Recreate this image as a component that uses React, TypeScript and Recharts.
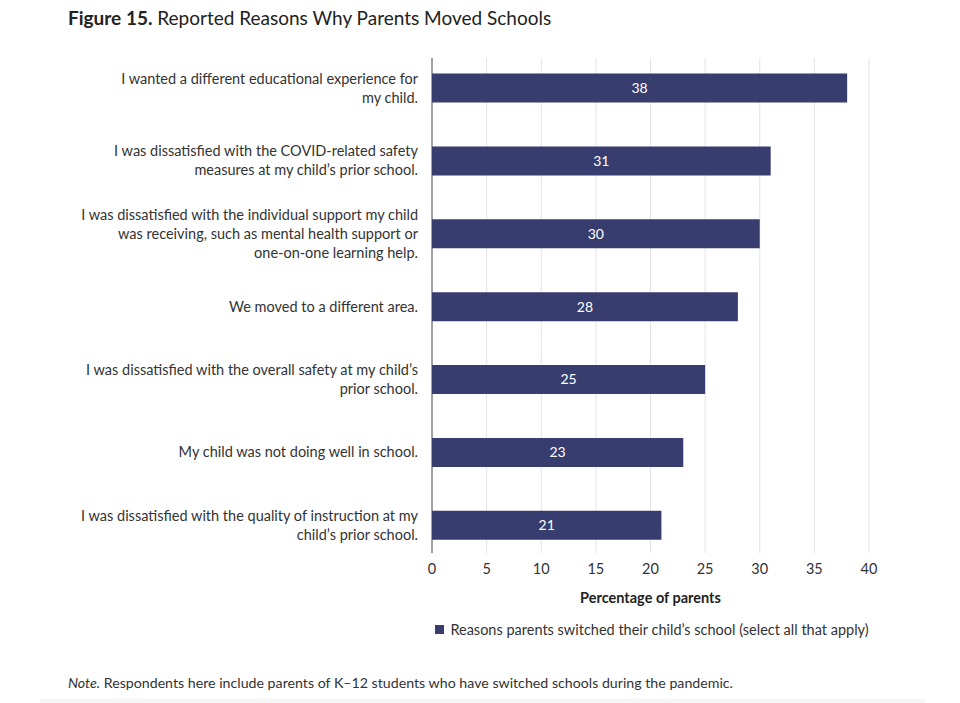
import React from 'react';
import { BarChart, Bar, XAxis, YAxis, CartesianGrid, LabelList } from 'recharts';

// Reasons (line breaks follow the original wrapping)
const reasons = [
  'I wanted a different educational experience for\nmy child.',
  'I was dissatisfied with the COVID-related safety\nmeasures at my child\u2019s prior school.',
  'I was dissatisfied with the individual support my child\nwas receiving, such as mental health support or\none-on-one learning help.',
  'We moved to a different area.',
  'I was dissatisfied with the overall safety at my child\u2019s\nprior school.',
  'My child was not doing well in school.',
  'I was dissatisfied with the quality of instruction at my\nchild\u2019s prior school.',
];
const percentages = [38, 31, 30, 28, 25, 23, 21];
const xTicks = [0, 5, 10, 15, 20, 25, 30, 35, 40];

const seriesName = 'Reasons parents switched their child\u2019s school (select all that apply)';
const BAR_COLOR = '#383d6f';
const FONT = 'Lato, "Open Sans", sans-serif';

const data = reasons.map((r, i) => ({ reason: r, value: percentages[i] }));

const ReasonTick = (props: any) => {
  const { x, y, payload } = props;
  const lines = String(payload.value).split('\n');
  const lh = 19;
  const start = -((lines.length - 1) * lh) / 2;
  return (
    <text x={x} y={y} textAnchor="end" fill="#333" fontSize={14.5} fontFamily={FONT}>
      {lines.map((l, i) => (
        <tspan key={i} x={x} y={y + start + i * lh} dy="0.35em">
          {l}
        </tspan>
      ))}
    </text>
  );
};

// vertical gridlines, first one doubles as the value axis line
const GridLine = (props: any) => {
  const { x1, x2, y1, y2, index } = props;
  return (
    <line
      x1={x1}
      x2={x2}
      y1={y1 + 6.5}
      y2={y2 - 8.5}
      stroke={index === 0 ? '#444' : '#e3e3e3'}
      strokeWidth={1}
    />
  );
};

export default function App() {
  return (
    <div style={{ position: 'absolute', left: 0, top: 0, width: 960, height: 703, background: '#fff', overflow: 'hidden' }}>
      <div style={{ position: 'absolute', left: 68, top: 6, fontFamily: FONT, fontSize: 19, color: '#222', whiteSpace: 'nowrap' }}>
        <b>Figure 15.</b> Reported Reasons Why Parents Moved Schools
      </div>

      <div style={{ position: 'absolute', left: 0, top: 0 }}>
        <BarChart
          width={960}
          height={620}
          data={data}
          layout="vertical"
          margin={{ top: 51.6, right: 91, bottom: 8.4, left: 0 }}
        >
          <CartesianGrid horizontal={false} vertical={GridLine} />
          <XAxis
            type="number"
            domain={[0, 40]}
            ticks={xTicks}
            axisLine={false}
            tickLine={false}
            tickSize={0}
            tickMargin={2}
            height={50}
            tick={{ fontSize: 14.5, fill: '#333', fontFamily: FONT }}
            label={{
              value: 'Percentage of parents',
              position: 'insideBottom',
              offset: 9,
              style: { fontSize: 14.5, fontWeight: 700, fill: '#222', fontFamily: FONT },
            }}
          />
          <YAxis
            type="category"
            dataKey="reason"
            width={432}
            axisLine={false}
            tickLine={false}
            tickMargin={14}
            tickSize={0}
            tick={<ReasonTick />}
            interval={0}
          />
          <Bar dataKey="value" name={seriesName} fill={BAR_COLOR} barSize={29} isAnimationActive={false}>
            <LabelList dataKey="value" position="center" fill="#fff" fontSize={14} fontFamily={FONT} />
          </Bar>
        </BarChart>
      </div>

      {/* legend, centred under the plot area */}
      <div
        style={{
          position: 'absolute', left: 432, top: 621, width: 440, display: 'flex', justifyContent: 'center',
          alignItems: 'center', fontFamily: FONT, fontSize: 14.5, color: '#333', whiteSpace: 'nowrap',
        }}
      >
        <span style={{ display: 'inline-block', width: 9, height: 9, background: BAR_COLOR, marginRight: 6 }} />
        <span>{seriesName}</span>
      </div>

      <div style={{ position: 'absolute', left: 68, top: 674, fontFamily: FONT, fontSize: 14.2, color: '#333', whiteSpace: 'nowrap' }}>
        <i>Note.</i> Respondents here include parents of K–12 students who have switched schools during the pandemic.
      </div>
      <div style={{ position: 'absolute', left: 40, top: 699, width: 885, height: 4, background: '#f6f6f6' }} />
    </div>
  );
}
